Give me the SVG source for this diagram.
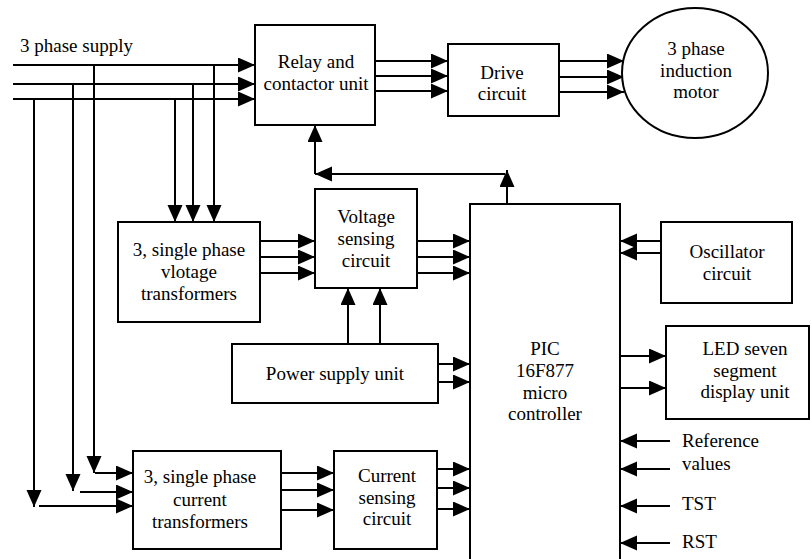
<svg xmlns="http://www.w3.org/2000/svg" width="812" height="559" viewBox="0 0 812 559">
<style>
.box{fill:#fff;stroke:#000;stroke-width:2}
.ln{fill:none;stroke:#000;stroke-width:2}
.ar{fill:none;stroke:#000;stroke-width:2;marker-end:url(#ah)}
text{font-family:"Liberation Serif","Times New Roman",serif;font-size:19px;fill:#000}
.c{text-anchor:middle}
</style>
<defs>
<marker id="ah" markerUnits="userSpaceOnUse" markerWidth="18" markerHeight="16" refX="17" refY="7.5" orient="auto">
<path d="M0,0 L17,7.5 L0,15 z" fill="#000"/>
</marker>
</defs>
<rect width="812" height="559" fill="#fff"/>
<g id="connectors">
<path class="ar" d="M13,65 H255"/>
<path class="ar" d="M13,84 H255"/>
<path class="ar" d="M13,99 H255"/>
<path class="ar" d="M214,65 V222"/>
<path class="ar" d="M193,84 V222"/>
<path class="ar" d="M175,99 V222"/>
<path class="ar" d="M94,65 V473"/>
<path class="ar" d="M73,84 V491"/>
<path class="ar" d="M34,99 V507"/>
<path class="ar" d="M95,473 H133"/>
<path class="ar" d="M80,492 H133"/>
<path class="ar" d="M39,506 H133"/>
<path class="ar" d="M375,61 H448"/>
<path class="ar" d="M375,76 H448"/>
<path class="ar" d="M375,91 H448"/>
<path class="ar" d="M559,61 H624"/>
<path class="ar" d="M559,77 H624"/>
<path class="ar" d="M559,92 H624"/>
<path class="ar" d="M507,204 V170"/>
<path class="ar" d="M505,174 H315"/>
<path class="ar" d="M315,174 V125"/>
<path class="ar" d="M260,241 H315"/>
<path class="ar" d="M260,257 H315"/>
<path class="ar" d="M260,273 H315"/>
<path class="ar" d="M417,241 H470"/>
<path class="ar" d="M417,257 H470"/>
<path class="ar" d="M417,273 H470"/>
<path class="ar" d="M348,344 V288"/>
<path class="ar" d="M380,344 V288"/>
<path class="ar" d="M438,364 H470"/>
<path class="ar" d="M438,382 H470"/>
<path class="ar" d="M281,473 H334"/>
<path class="ar" d="M281,490 H334"/>
<path class="ar" d="M281,510 H334"/>
<path class="ar" d="M437,469 H470"/>
<path class="ar" d="M437,488 H470"/>
<path class="ar" d="M437,509 H470"/>
<path class="ar" d="M661,241 H620"/>
<path class="ar" d="M661,253 H620"/>
<path class="ar" d="M620,356 H666"/>
<path class="ar" d="M620,388 H666"/>
<path class="ar" d="M670,441 H620"/>
<path class="ar" d="M670,469 H620"/>
<path class="ar" d="M670,506 H620"/>
<path class="ar" d="M670,543 H620"/>
</g>
<text x="20" y="52">3 phase supply</text>
<g id="relay">
<rect class="box" x="255" y="25" width="120" height="100"/>
<text class="c" x="316" y="68">Relay and</text>
<text class="c" x="316" y="90">contactor unit</text>
</g>
<g id="drive">
<rect class="box" x="448" y="44" width="111" height="72"/>
<text class="c" x="502" y="79">Drive</text>
<text class="c" x="502" y="100">circuit</text>
</g>
<g id="motor">
<ellipse class="box" cx="695" cy="73" rx="73" ry="65"/>
<text class="c" x="696" y="55">3 phase</text>
<text class="c" x="696" y="77">induction</text>
<text class="c" x="696" y="98">motor</text>
</g>
<g id="vt">
<rect class="box" x="118" y="222" width="142" height="100"/>
<text class="c" x="189" y="256">3, single phase</text>
<text class="c" x="189" y="278">vlotage</text>
<text class="c" x="189" y="300">transformers</text>
</g>
<g id="vsense">
<rect class="box" x="315" y="189" width="102" height="99"/>
<text class="c" x="366" y="223">Voltage</text>
<text class="c" x="366" y="245">sensing</text>
<text class="c" x="366" y="267">circuit</text>
</g>
<g id="power">
<rect class="box" x="232" y="344" width="206" height="59"/>
<text class="c" x="335" y="380">Power supply unit</text>
</g>
<g id="pic">
<path class="box" d="M470,562 V204 H620 V562"/>
<text class="c" x="545" y="355">PIC</text>
<text class="c" x="545" y="377">16F877</text>
<text class="c" x="545" y="399">micro</text>
<text class="c" x="545" y="420">controller</text>
</g>
<g id="osc">
<rect class="box" x="661" y="222" width="131" height="81"/>
<text class="c" x="727" y="258">Oscillator</text>
<text class="c" x="727" y="280">circuit</text>
</g>
<g id="led">
<rect class="box" x="666" y="326" width="143" height="93"/>
<text class="c" x="745" y="355">LED seven</text>
<text class="c" x="745" y="377">segment</text>
<text class="c" x="745" y="398">display unit</text>
</g>
<g id="ct">
<rect class="box" x="133" y="451" width="148" height="98"/>
<text class="c" x="200" y="483">3, single phase</text>
<text class="c" x="200" y="506">current</text>
<text class="c" x="200" y="528">transformers</text>
</g>
<g id="csense">
<rect class="box" x="334" y="451" width="103" height="98"/>
<text class="c" x="387" y="482">Current</text>
<text class="c" x="387" y="504">sensing</text>
<text class="c" x="387" y="525">circuit</text>
</g>
<g id="labels">
<text x="682" y="447">Reference</text>
<text x="682" y="470">values</text>
<text x="682" y="510">TST</text>
<text x="682" y="548">RST</text>
</g>
</svg>
